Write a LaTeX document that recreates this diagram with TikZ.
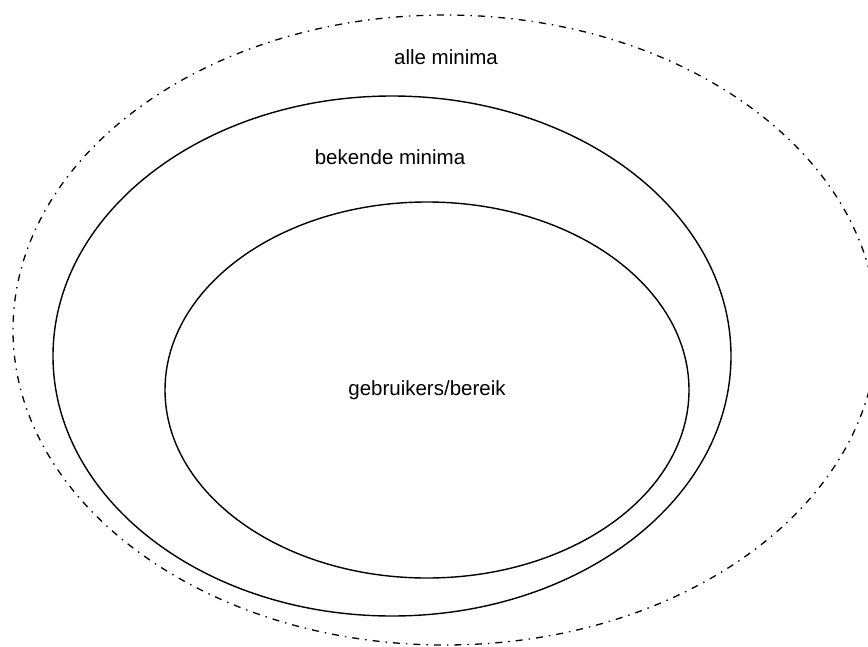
\documentclass[tikz,border=0pt]{standalone}
\usepackage{fontspec}
\setmainfont{Liberation Sans}
\begin{document}
\begin{tikzpicture}[x=1pt,y=-1pt,
  lbl/.style={font=\fontsize{20.5}{22}\selectfont, inner sep=0pt},
  solidring/.style={draw=black, line width=1.4pt},
  dashring/.style={draw=black, line width=1.3pt, dash pattern=on 7pt off 6pt on 1.5pt off 6pt}]
\useasboundingbox (0,0) rectangle (868,646);
\draw[dashring] (445,330) ellipse [x radius=432, y radius=315];
\draw[solidring] (392,356) ellipse [x radius=339, y radius=260];
\draw[solidring] (427,390) ellipse [x radius=262, y radius=188];
\node[lbl] (alle) at (446,57) {alle minima};
\node[lbl] (bekende) at (390,157) {bekende minima};
\node[lbl] (gebr) at (427,390) {gebruikers/bereik};
\end{tikzpicture}
\end{document}
